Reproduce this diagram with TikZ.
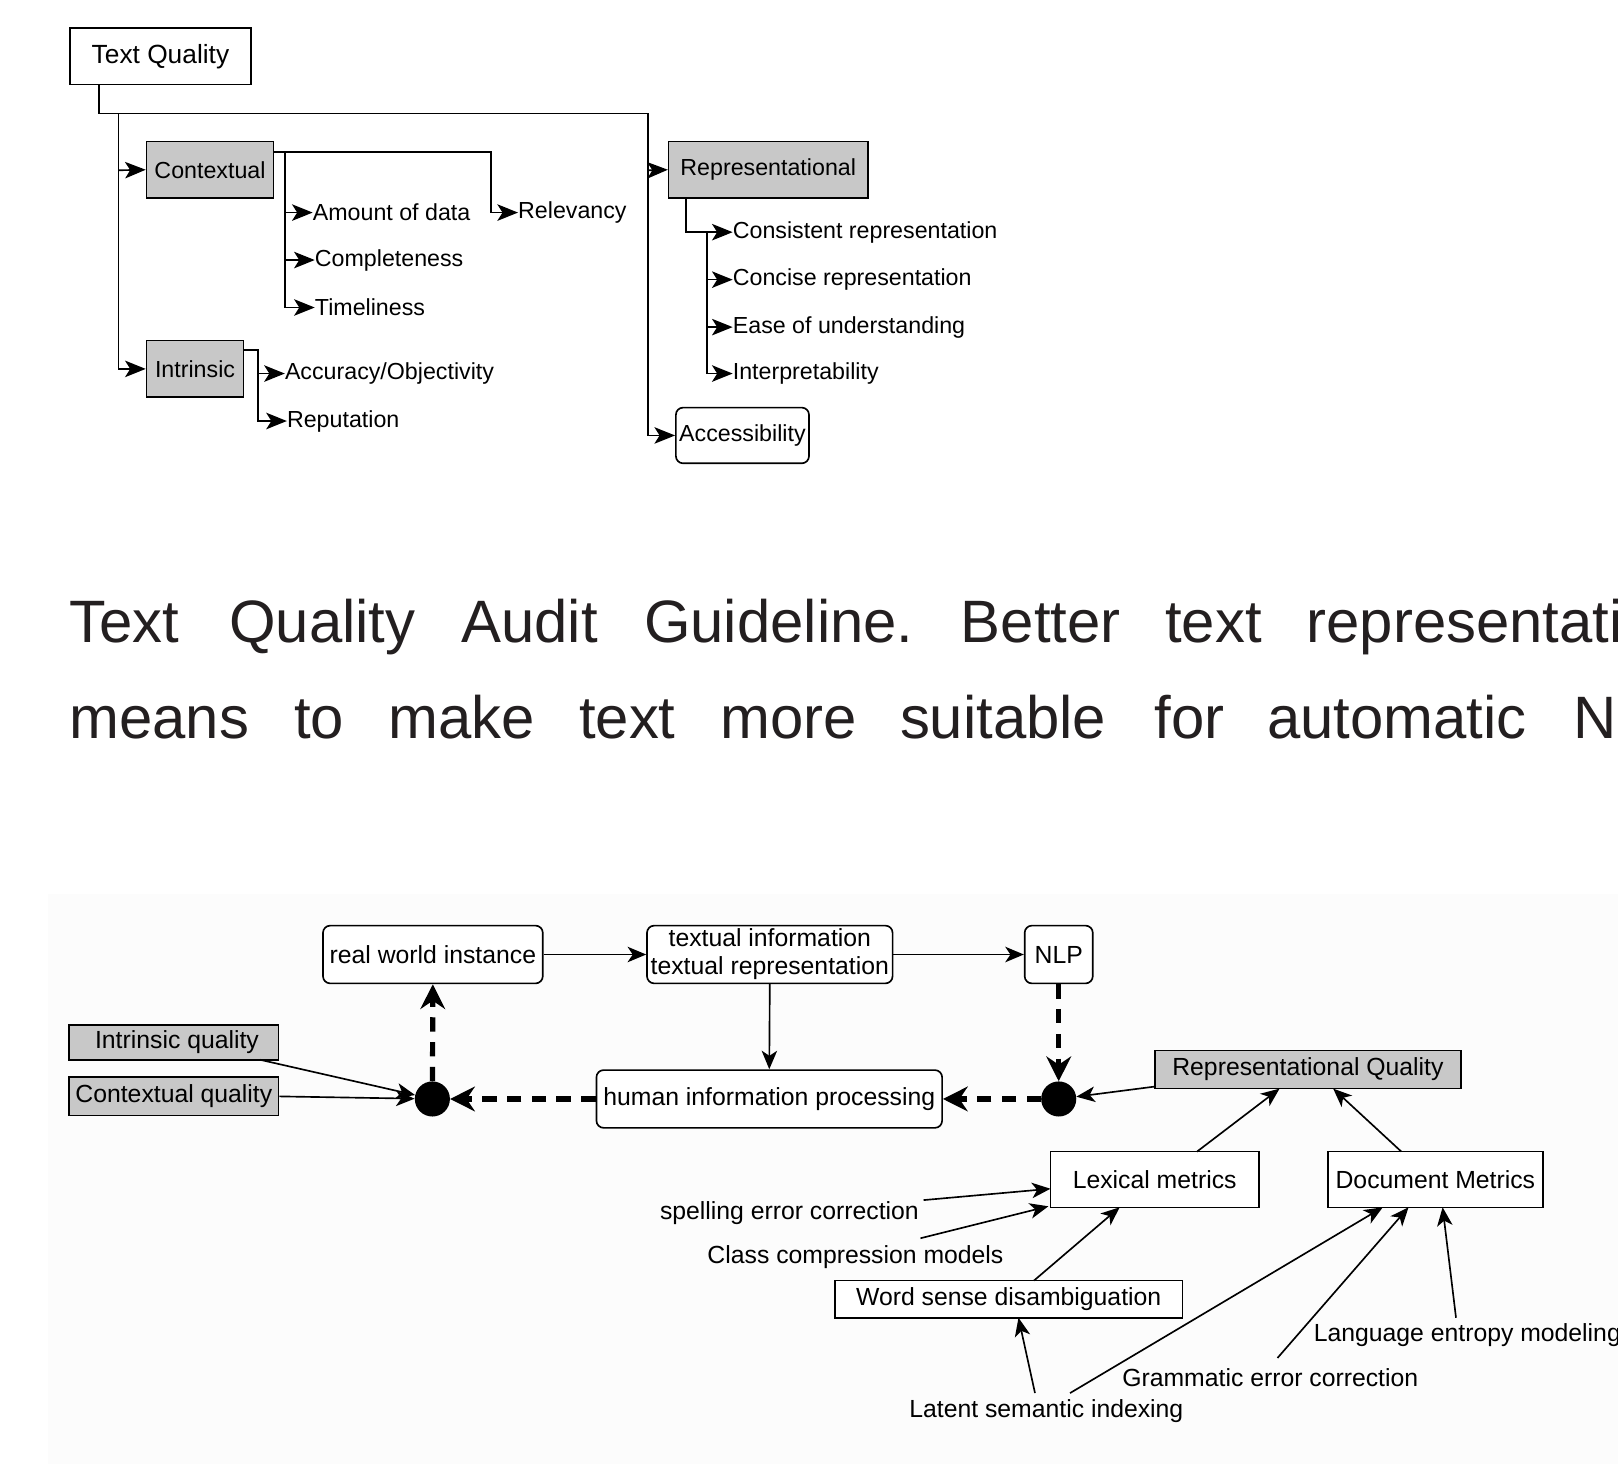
\documentclass[tikz,border=0pt]{standalone}
\usepackage{fontspec}
\setmainfont{Liberation Sans}
\usetikzlibrary{arrows.meta}
\definecolor{boxgray}{HTML}{C8C8C8}
\definecolor{bgpanel}{HTML}{FCFCFC}
\definecolor{captxt}{HTML}{231F20}
\begin{document}
\begin{tikzpicture}[x=1pt,y=-1pt,
  box/.style={draw, line width=1.6pt, inner sep=0pt, align=center},
  gbox/.style={box, fill=boxgray},
  rbox/.style={box, rounded corners=7pt, fill=white},
  wbox/.style={box, fill=white},
  topfont/.style={font=\fontsize{22.5}{27}\selectfont},
  botfont/.style={font=\fontsize{24}{27}\selectfont},
  leaf/.style={topfont, inner sep=0pt, anchor=west},
  freelab/.style={botfont, inner sep=0pt},
  capword/.style={font=\fontsize{58}{70}\selectfont, text=captxt, inner sep=0pt, anchor=base west},
  tconn/.style={line width=1.6pt, -{Stealth[length=20pt,width=16pt,inset=5pt]}},
  bconn/.style={line width=1.6pt, -{Stealth[length=18pt,width=15pt,inset=5pt]}},
  dconn/.style={line width=5pt, dash pattern=on 14pt off 10pt, -{Stealth[length=24pt,width=24pt,inset=8pt]}},
  dot/.style={circle, fill=black, minimum size=34pt, inner sep=0pt}
]
\useasboundingbox (0,0) rectangle (1568,1419);
\fill[white] (0,0) rectangle (1568,1419);
\fill[bgpanel] (47,866) rectangle (1568,1419);

% ---------------- top diagram ----------------
\node[box, minimum width=175pt, minimum height=55pt, font=\fontsize{25.5}{30}\selectfont] (tq) at (155.5,54.5) {Text Quality};
\node[gbox, topfont, minimum width=123pt, minimum height=55pt] (ctx) at (203.5,164.5) {Contextual};
\node[gbox, topfont, minimum width=94pt, minimum height=55pt] (intr) at (189,357.5) {Intrinsic};
\node[gbox, topfont, minimum width=193pt, minimum height=55pt] (rep) at (744.5,164.5) {Representational};
\node[rbox, topfont, minimum width=129pt, minimum height=54pt] (acc) at (719.5,422) {Accessibility};

\node[leaf] (amount) at (303,206) {Amount of data};
\node[leaf] (relev) at (502,206) {Relevancy};
\node[leaf] (compl) at (305,252) {Completeness};
\node[leaf] (timel) at (305,298) {Timeliness};
\node[leaf] (accur) at (276,362) {Accuracy/Objectivity};
\node[leaf] (reput) at (278,408) {Reputation};
\node[leaf] (consist) at (710,225) {Consistent representation};
\node[leaf] (concise) at (710,271) {Concise representation};
\node[leaf] (ease) at (710,317) {Ease of understanding};
\node[leaf] (interp) at (710,362) {Interpretability};

\coordinate (tqb) at (96,82);
\coordinate (tqj) at (96,110);
\coordinate (trunkR) at (628,110);
\coordinate (trunkL) at (115,110);
\draw[tconn] (tqb) -- (tqj) -- (trunkR) |- (acc.west);
\draw[tconn] (628,165) -- (rep.west);
\draw[tconn] (trunkL) |- (intr.west);
\draw[tconn] (115,165) -- (ctx.west);

\coordinate (ctxr) at (265,147);
\draw[tconn] (ctxr) -- (476,147) |- (relev.west);
\draw[tconn] (276,147) |- (timel.west);
\draw[tconn] (276,206) -- (amount.west);
\draw[tconn] (276,252) -- (compl.west);

\coordinate (intrr) at (236,339);
\draw[tconn] (intrr) -- (250,339) |- (reput.west);
\draw[tconn] (250,362) -- (accur.west);

\coordinate (repb) at (665,192);
\draw[tconn] (repb) |- (consist.west);
\draw[tconn] (685,225) |- (interp.west);
\draw[tconn] (685,271) -- (concise.west);
\draw[tconn] (685,317) -- (ease.west);

% ---------------- caption ----------------
\node[capword] (w1) at (67,623) {Text};
\node[capword] (w2) at (222,623) {Quality};
\node[capword] (w3) at (447,623) {Audit};
\node[capword] (w4) at (624,623) {Guideline.};
\node[capword] (w5) at (931,623) {Better};
\node[capword] (w6) at (1129,623) {text};
\node[capword] (w7) at (1266,623) {representati};
\node[capword] (v1) at (67,716) {means};
\node[capword] (v2) at (285,716) {to};
\node[capword] (v3) at (376,716) {make};
\node[capword] (v4) at (561,716) {text};
\node[capword] (v5) at (698,716) {more};
\node[capword] (v6) at (872,716) {suitable};
\node[capword] (v7) at (1119,716) {for};
\node[capword] (v8) at (1228,716) {automatic};
\node[capword] (v9) at (1525,716) {N};

% ---------------- bottom diagram ----------------
\node[rbox, botfont, minimum width=213pt, minimum height=56pt] (rwi) at (419.5,925) {real world instance};
\node[rbox, botfont, minimum width=238pt, minimum height=56pt] (tir) at (746,925) {textual information\\textual representation};
\node[rbox, botfont, minimum width=66pt, minimum height=56pt] (nlp) at (1026,925) {NLP};
\node[rbox, botfont, minimum width=335pt, minimum height=56pt] (hip) at (745.5,1065) {human information processing};
\node[dot] (dotL) at (419,1065) {};
\node[dot] (dotR) at (1026,1065) {};
\node[gbox, botfont, minimum width=203pt, minimum height=34pt] (iq) at (168.5,1010) {\hspace*{6pt}Intrinsic quality};
\node[gbox, botfont, minimum width=203pt, minimum height=37pt] (cq) at (168.5,1062.5) {Contextual quality};
\node[gbox, botfont, minimum width=297pt, minimum height=37pt] (rq) at (1267.5,1036.5) {Representational Quality};
\node[wbox, botfont, minimum width=202pt, minimum height=54pt] (lex) at (1119,1143) {Lexical metrics};
\node[wbox, botfont, minimum width=208pt, minimum height=54pt] (doc) at (1391,1143) {Document Metrics};
\node[wbox, botfont, minimum width=337pt, minimum height=36pt] (wsd) at (977.5,1259) {Word sense disambiguation};
\node[freelab] (spell) at (765,1176) {spelling error correction};
\node[freelab] (class) at (829,1218) {Class compression models};
\node[freelab] (lsi) at (1014,1367) {Latent semantic indexing};
\node[freelab] (gec) at (1231,1335) {Grammatic error correction};
\node[freelab, anchor=west] (lem) at (1273,1294) {Language entropy modeling};

\draw[bconn] (rwi.east) -- (tir.west);
\draw[bconn] (tir.east) -- (nlp.west);
\draw[bconn] (tir.south) -- (hip.north);

\draw[dconn] (dotL) -- (rwi.south);
\draw[dconn] (hip.west) -- (dotL);
\draw[dconn] (dotR) -- (hip.east);
\draw[dconn] (nlp.south) -- (dotR);

\coordinate (iqs) at (252,1027);
\draw[bconn] (iqs) -- (dotL);
\draw[bconn] (cq.east) -- (dotL);
\coordinate (rqs) at (1119,1053);
\draw[bconn] (rqs) -- (dotR);

\coordinate (lexT) at (1160,1116);
\coordinate (rqA) at (1240,1055);
\draw[bconn] (lexT) -- (rqA);
\coordinate (docT) at (1358,1116);
\coordinate (rqB) at (1292,1055);
\draw[bconn] (docT) -- (rqB);

\coordinate (sp1) at (895,1163);
\draw[bconn] (sp1) -- (1018,1152);
\coordinate (cl1) at (892,1200);
\draw[bconn] (cl1) -- (1016,1169);
\coordinate (ws1) at (1002,1241);
\draw[bconn] (ws1) -- (1085,1170);
\coordinate (ls1) at (1003,1350);
\draw[bconn] (ls1) -- (987,1277);
\coordinate (ls2) at (1037,1350);
\draw[bconn] (ls2) -- (1340,1170);
\coordinate (ge1) at (1238,1316);
\draw[bconn] (ge1) -- (1365,1170);
\coordinate (le1) at (1411,1277);
\draw[bconn] (le1) -- (1398,1170);
\end{tikzpicture}
\end{document}
